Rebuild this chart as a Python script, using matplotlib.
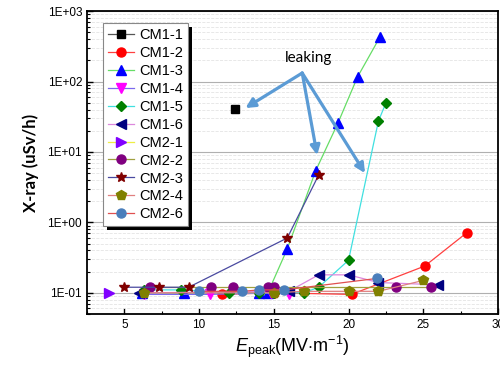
import math
import matplotlib.pyplot as plt
from matplotlib.patches import Rectangle
from matplotlib.ticker import FuncFormatter, LogLocator, MultipleLocator, NullFormatter

# series: E_peak (MV/m) and X-ray dose (uSv/h)
cm11_x = [12.4]
cm11_y = [40.5]
cm12_x = [11.5, 15.0, 20.2, 25.1, 27.9]
cm12_y = [0.095, 0.10, 0.095, 0.24, 0.71]
cm13_x = [6.2, 9.0, 14.0, 14.6, 15.9, 17.8, 19.3, 20.6, 22.1]
cm13_y = [0.10, 0.10, 0.10, 0.10, 0.42, 5.4, 26.0, 116.0, 427.0]
cm14_x = [6.3, 10.7, 14.8, 16.0]
cm14_y = [0.095, 0.095, 0.10, 0.095]
cm15_x = [6.3, 8.8, 12.0, 14.0, 15.0, 17.0, 18.0, 20.0, 22.0, 22.5]
cm15_y = [0.11, 0.11, 0.10, 0.10, 0.10, 0.10, 0.12, 0.29, 27.5, 49.5]
cm16_x = [6.0, 16.0, 18.0, 20.0, 22.0, 26.0]
cm16_y = [0.10, 0.105, 0.18, 0.18, 0.14, 0.13]
cm21_x = [4.0]
cm21_y = [0.10]
cm22_x = [6.7, 10.8, 12.3, 14.6, 15.0, 23.2, 25.5]
cm22_y = [0.12, 0.12, 0.12, 0.12, 0.12, 0.12, 0.12]
cm23_x = [5.0, 7.3, 9.3, 15.9, 18.0]
cm23_y = [0.12, 0.12, 0.12, 0.6, 4.7]
cm24_x = [6.3, 15.0, 17.0, 20.0, 22.0, 25.0]
cm24_y = [0.10, 0.10, 0.105, 0.105, 0.105, 0.15]
cm26_x = [10.0, 12.9, 14.0, 15.7, 21.9]
cm26_y = [0.105, 0.105, 0.11, 0.11, 0.16]

labels = ["CM1-1", "CM1-2", "CM1-3", "CM1-4", "CM1-5", "CM1-6",
          "CM2-1", "CM2-2", "CM2-3", "CM2-4", "CM2-6"]

plt.rcParams['font.family'] = ['Liberation Sans', 'DejaVu Sans']
plt.rcParams['mathtext.fontset'] = 'custom'
plt.rcParams['mathtext.rm'] = 'Liberation Sans'
plt.rcParams['mathtext.it'] = 'Liberation Sans:italic'

fig = plt.figure(figsize=(5, 3.69), dpi=100)
ax = fig.add_axes([0.174, 0.149, 0.822, 0.821])

series = [
    (cm11_x, cm11_y, 's', 'black', '#555555', 5.5),
    (cm12_x, cm12_y, 'o', 'red', '#ff4040', 6.5),
    (cm13_x, cm13_y, '^', 'blue', '#66dd66', 6.5),
    (cm14_x, cm14_y, 'v', 'magenta', '#7b68ee', 6.5),
    (cm15_x, cm15_y, 'D', '#008000', '#40e0e0', 5.5),
    (cm16_x, cm16_y, '<', '#000080', '#dd88dd', 6.5),
    (cm21_x, cm21_y, '>', '#8000ff', '#eeee44', 6.5),
    (cm22_x, cm22_y, 'o', '#800080', '#a0a040', 6.5),
    (cm23_x, cm23_y, '*', '#800000', '#4a4aa0', 7.5),
    (cm24_x, cm24_y, 'p', '#808000', '#e08080', 7.5),
    (cm26_x, cm26_y, 'o', '#4a7ebb', '#e05050', 6.5),
]
for (x, y, m, mc, lc, ms), lab in zip(series, labels):
    ax.plot(x, y, color=lc, lw=0.9, marker=m, ms=ms, mfc=mc, mec=mc, label=lab)

ax.set_yscale('log')
ax.set_ylim(0.05, 1000)
ax.set_xlim(2.5, 30)
ax.xaxis.set_major_locator(MultipleLocator(5))
ax.xaxis.set_minor_locator(MultipleLocator(2.5))
ax.yaxis.set_major_locator(LogLocator(base=10, numticks=10))
ax.yaxis.set_minor_locator(LogLocator(base=10, subs=range(2, 10), numticks=20))
ax.yaxis.set_minor_formatter(NullFormatter())
ax.yaxis.set_major_formatter(FuncFormatter(lambda v, p: "1E%+03d" % round(math.log10(v))))

ax.grid(True, which='major', axis='y', color='#b0b0b0', lw=0.8)
ax.grid(True, which='minor', axis='y', color='#e4e4e4', lw=0.6, ls='--')
ax.set_axisbelow(True)

ax.tick_params(which='both', direction='in', labelsize=8.5, colors='black')
ax.tick_params(which='major', length=4, width=1)
ax.tick_params(which='minor', length=2.5, width=0.8)
for s in ax.spines.values():
    s.set_linewidth(1.3)

ax.set_xlabel(r"$\mathit{E}_{\mathrm{peak}}\mathrm{(MV{\cdot}m^{-1})}$", fontsize=13, labelpad=2)
ax.set_ylabel("X-ray (uSv/h)", fontsize=12, fontweight='bold', family='Lato', labelpad=6)

leg = ax.legend(loc='upper left', bbox_to_anchor=(0.02, 0.985), fontsize=10.5,
                frameon=True, fancybox=False, edgecolor='#888888', framealpha=1,
                handlelength=1.8, handletextpad=0.35, labelspacing=0.27, borderpad=0.35)
leg.get_frame().set_linewidth(0.8)

# black drop shadow behind the legend, drawn by hand
fig.canvas.draw()
bb = leg.get_window_extent().transformed(ax.transAxes.inverted())
sx, sy = 4 / ax.bbox.width, 4 / ax.bbox.height
ax.add_patch(Rectangle((bb.x0 + sx, bb.y0 - sy), bb.width, bb.height,
                       transform=ax.transAxes, facecolor='black', edgecolor='none',
                       zorder=4.9, clip_on=False))

ax.text(17.3, 215, "leaking", fontsize=11, family='Lato', ha='center', va='center')
arrow_tips = [(13.1, 42), (17.9, 9.0), (21.1, 5.0)]
for tx, ty in arrow_tips:
    ax.annotate("", xy=(tx, ty), xytext=(16.9, 132),
                arrowprops=dict(arrowstyle='-|>', color='#5b9bd5', lw=2.3,
                                mutation_scale=14, shrinkA=0, shrinkB=0))

fig.savefig("out.png", dpi=100)
